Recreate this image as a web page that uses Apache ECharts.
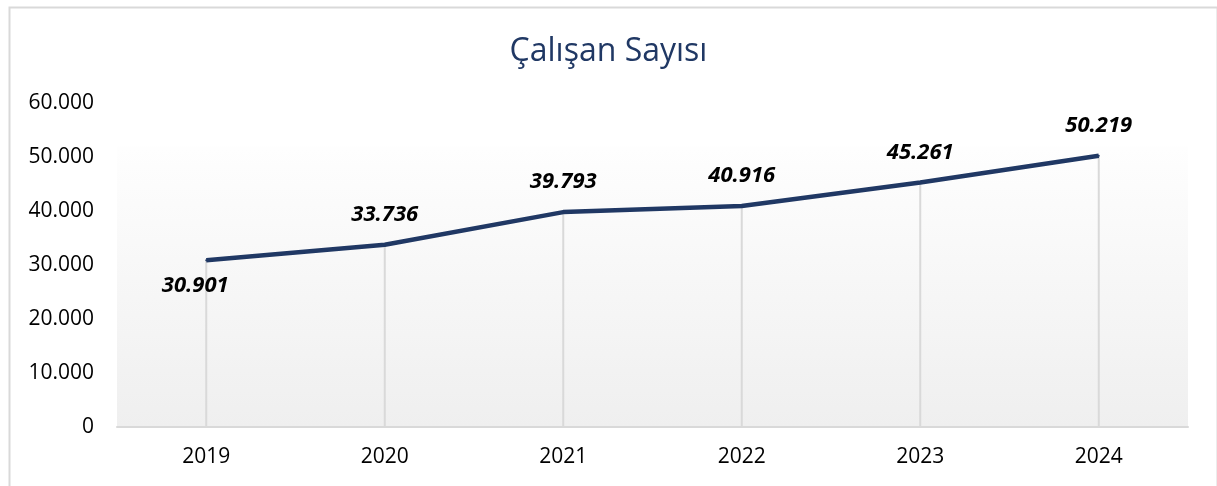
<!DOCTYPE html>
<html>
<head>
<meta charset="utf-8">
<script src="https://cdn.jsdelivr.net/npm/echarts@6/dist/echarts.min.js"></script>
<style>
html,body{margin:0;padding:0;background:#fff;}
#chart{width:1217px;height:486px;}
</style>
</head>
<body>
<div id="chart"></div>
<script>
var titleText = 'Çalışan Sayısı';
var years = ['2019', '2020', '2021', '2022', '2023', '2024'];
var employees = [30901, 33736, 39793, 40916, 45261, 50219];
var labelPositions = ['bottom', 'top', 'top', 'top', 'top', 'top'];
var yTicks = [0, 10000, 20000, 30000, 40000, 50000, 60000];

function fmt(v) {
  return String(v).replace(/\B(?=(\d{3})+(?!\d))/g, '.');
}

var chart = echarts.init(document.getElementById('chart'));
chart.setOption({
  animation: false,
  backgroundColor: '#ffffff',
  title: {
    text: titleText,
    left: 'center',
    top: 31,
    textStyle: { color: '#203864', fontFamily: 'Open Sans', fontWeight: 'normal', fontSize: 32 }
  },
  graphic: [{
    type: 'rect',
    left: 7, top: 5,
    shape: { width: 1208, height: 500 },
    style: { fill: 'none', stroke: '#d9d9d9', lineWidth: 2 },
    silent: true, z: -1
  }],
  grid: {
    left: 117, right: 29, top: 103, bottom: 59,
    show: true,
    borderWidth: 0,
    backgroundColor: {
      type: 'linear', x: 0, y: 0, x2: 0, y2: 1,
      colorStops: [
        { offset: 0, color: '#ffffff' },
        { offset: 0.13, color: '#ffffff' },
        { offset: 0.14, color: '#fefefe' },
        { offset: 1, color: '#efefef' }
      ]
    }
  },
  xAxis: {
    type: 'category',
    data: years,
    boundaryGap: true,
    axisLine: { show: true, lineStyle: { color: '#d9d9d9', width: 2 } },
    axisTick: { show: false },
    axisLabel: { color: '#000', fontFamily: 'Open Sans', fontSize: 21, margin: 20 },
    splitLine: { show: false }
  },
  yAxis: {
    type: 'value',
    min: yTicks[0],
    max: yTicks[yTicks.length - 1],
    interval: yTicks[1] - yTicks[0],
    axisLine: { show: false },
    axisTick: { show: false },
    splitLine: { show: false },
    axisLabel: { color: '#000', fontFamily: 'Open Sans', fontSize: 21, margin: 23, formatter: fmt }
  },
  series: [
    {
      type: 'bar',
      data: employees,
      barWidth: 2,
      silent: true,
      itemStyle: { color: '#d9d9d9' },
      z: 1
    },
    {
      type: 'line',
      data: employees.map(function (v, i) {
        var lbl = { show: true, position: labelPositions[i] };
        if (labelPositions[i] === 'bottom') { lbl.distance = 14; lbl.offset = [-11, 0]; }
        return { value: v, label: lbl };
      }),
      symbol: 'circle',
      symbolSize: 2,
      showSymbol: true,
      itemStyle: { color: '#203864' },
      lineStyle: { color: '#203864', width: 4.5 },
      z: 3,
      label: {
        show: true,
        distance: 18,
        color: '#000',
        fontFamily: 'Open Sans',
        fontWeight: 'bold',
        fontStyle: 'italic',
        fontSize: 22,
        formatter: function (p) { return fmt(p.value); }
      }
    }
  ]
});
</script>
</body>
</html>
